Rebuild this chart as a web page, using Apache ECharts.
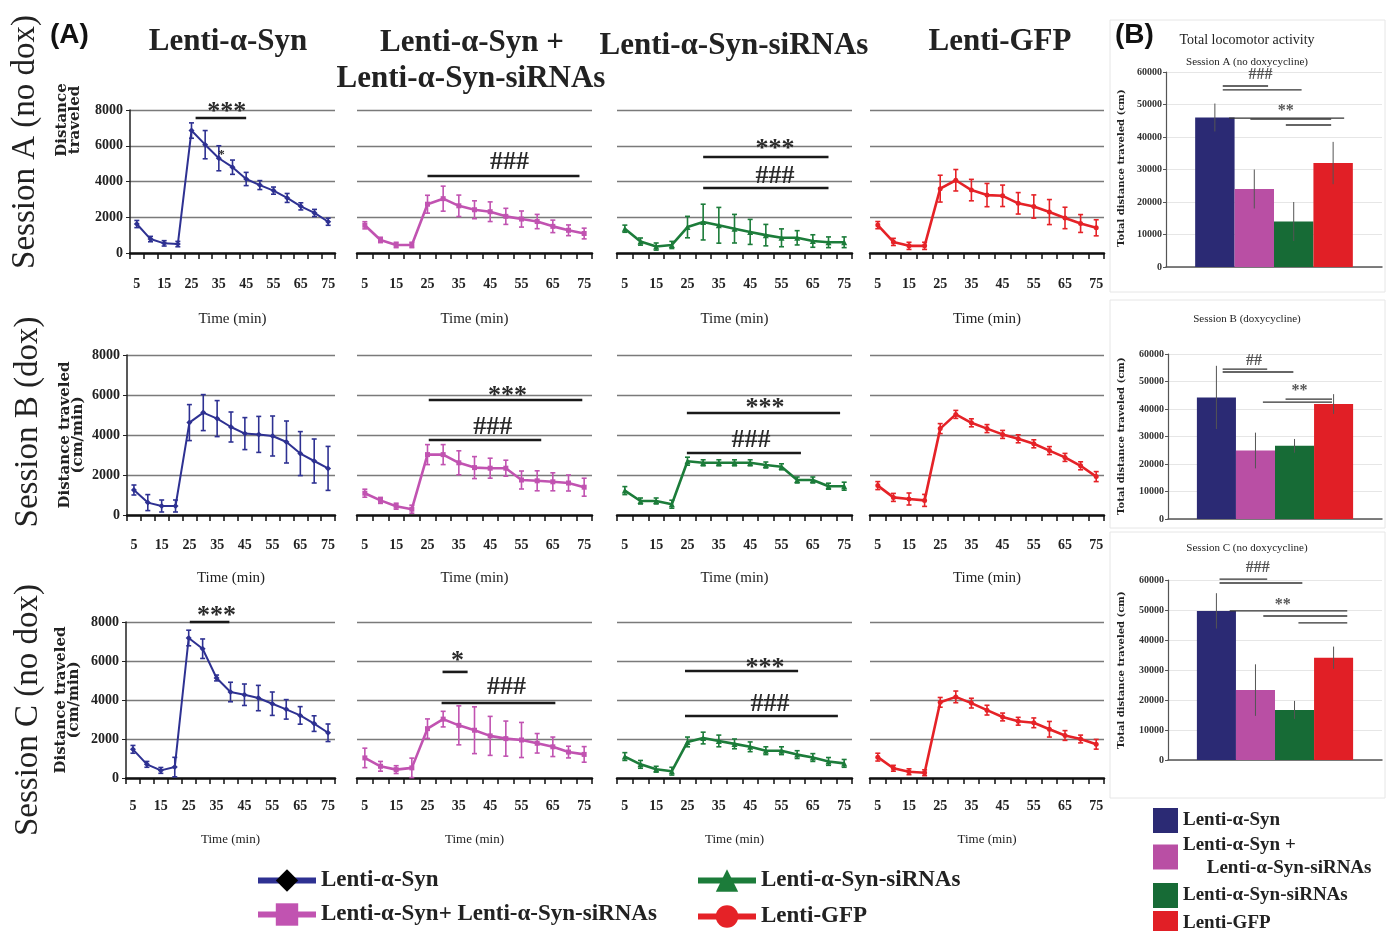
<!DOCTYPE html>
<html>
<head>
<meta charset="utf-8">
<title>Locomotor activity</title>
<script src="https://cdn.jsdelivr.net/npm/echarts@6/dist/echarts.min.js"></script>
<style>
  html, body { margin: 0; padding: 0; background: #fff; }
  #main { width: 1392px; height: 931px; }
</style>
</head>
<body>
<div id="main"></div>
<script>
// time bins (min)
var minutes = ['5', '10', '15', '20', '25', '30', '35', '40', '45', '50', '55', '60', '65', '70', '75'];
var groupNames = ['Lenti-α-Syn', 'Lenti-α-Syn + Lenti-α-Syn-siRNAs', 'Lenti-α-Syn-siRNAs', 'Lenti-GFP'];

// Session A (no dox), cm/min
var aSyn = [1620, 780, 540, 500, 6850, 6060, 5300, 4800, 4140, 3800, 3490, 3080, 2610, 2240, 1750];
var aSynSd = [200, 150, 150, 150, 430, 790, 700, 400, 370, 250, 200, 250, 200, 200, 200];
var aMix = [1550, 730, 450, 450, 2730, 3040, 2640, 2420, 2310, 2050, 1900, 1760, 1490, 1270, 1090];
var aMixSd = [200, 150, 150, 150, 500, 700, 600, 500, 550, 450, 450, 400, 350, 300, 300];
var aSi = [1360, 640, 360, 450, 1450, 1730, 1550, 1360, 1180, 1000, 850, 850, 670, 600, 600];
var aSiSd = [200, 200, 200, 200, 600, 1000, 1000, 800, 700, 600, 500, 400, 350, 300, 300];
var aGfp = [1560, 620, 400, 400, 3600, 4070, 3520, 3240, 3200, 2780, 2600, 2290, 1960, 1650, 1410];
var aGfpSd = [200, 200, 200, 200, 750, 600, 600, 650, 600, 600, 650, 700, 600, 500, 450];

// Session B (dox)
var bSyn = [1250, 620, 450, 450, 4620, 5120, 4820, 4400, 4070, 4030, 3950, 3650, 3070, 2700, 2330];
var bSynSd = [250, 400, 300, 300, 900, 900, 900, 750, 800, 900, 1000, 1050, 1100, 1100, 1100];
var bMix = [1090, 730, 440, 290, 3020, 3020, 2610, 2370, 2340, 2340, 1750, 1710, 1660, 1600, 1390];
var bMixSd = [200, 150, 150, 200, 500, 500, 600, 550, 500, 400, 450, 500, 450, 400, 450];
var bSi = [1220, 700, 700, 540, 2690, 2610, 2610, 2610, 2610, 2500, 2410, 1750, 1750, 1440, 1440];
var bSiSd = [200, 150, 150, 200, 200, 150, 150, 150, 150, 150, 150, 150, 150, 150, 200];
var bGfp = [1470, 880, 800, 730, 4320, 5030, 4610, 4320, 4030, 3810, 3560, 3220, 2880, 2460, 1920];
var bGfpSd = [200, 200, 300, 300, 250, 200, 200, 200, 200, 200, 200, 200, 200, 200, 250];

// Session C (no dox)
var cSyn = [1470, 700, 390, 560, 7180, 6630, 5130, 4410, 4270, 4100, 3810, 3520, 3210, 2790, 2320];
var cSynSd = [200, 150, 150, 500, 400, 500, 150, 500, 550, 650, 600, 500, 450, 400, 450];
var cMix = [1030, 600, 430, 520, 2530, 3020, 2700, 2450, 2160, 2020, 1950, 1780, 1600, 1330, 1210];
var cMixSd = [500, 250, 200, 500, 500, 400, 1000, 1200, 1000, 900, 900, 500, 500, 300, 400];
var cSi = [1100, 700, 450, 350, 1850, 2050, 1900, 1750, 1600, 1400, 1400, 1200, 1050, 850, 750];
var cSiSd = [200, 200, 150, 200, 250, 300, 300, 250, 250, 200, 200, 200, 200, 200, 200];
var cGfp = [1070, 500, 320, 270, 3880, 4160, 3840, 3480, 3130, 2910, 2830, 2500, 2180, 2000, 1730];
var cGfpSd = [200, 150, 150, 150, 250, 300, 250, 250, 200, 200, 250, 400, 250, 200, 250];

// total distance (cm), order = groupNames
var totalA = [46000, 24000, 14000, 32000];
var totalASd = [4300, 6000, 6000, 6500];
var totalB = [44200, 24900, 26600, 41800];
var totalBSd = [11500, 6500, 2500, 3600];
var totalC = [49700, 23300, 16700, 34100];
var totalCSd = [5900, 8600, 3000, 3700];

// significance bars: [from min, to min, value], labels: [min, value, text, size]
var sigLinesA = [[[26.5, 45, 7550]], [[25, 73.5, 4310]], [[30, 70, 5370], [30, 70, 3640]], []];
var sigTextA = [[[37.9, 8220, '***'], [36, 5650, '*', 13]], [[51.2, 5090, '###']], [[52.9, 6150, '***'], [52.9, 4310, '###']], []];
var sigLinesB = [[], [[25.4, 74.4, 5750], [25.4, 61.3, 3750]], [[24.8, 73.7, 5100], [24.8, 61.2, 3100]], []];
var sigTextB = [[], [[50.5, 6200, '***'], [45.8, 4400, '###']], [[49.7, 5600, '***'], [45.3, 3750, '###']], []];
var sigLinesC = [[[25.4, 39.6, 8000]], [[29.8, 37.8, 5440], [29.5, 65.8, 3850]], [[24.2, 60.3, 5490], [24.2, 73, 3180]], []];
var sigTextC = [[[35, 8570, '***']], [[34.6, 6260, '*'], [50.2, 4670, '###']], [[49.7, 5900, '***'], [51.3, 3800, '###']], []];

// bar panels: [from bar, to bar, value] with bar centres 0..3
var barSigLinesA = [[0.2, 1.35, 55700], [0.2, 2.2, 54500], [0.36, 3.28, 45800], [0.9, 2.95, 45500], [1.8, 2.95, 43700]];
var barSigTextA = [[1.16, 59000, '###'], [1.8, 49000, '**']];
var barSigLinesB = [[0.16, 1.3, 54500], [0.16, 1.97, 53450], [1.77, 2.96, 43600], [1.19, 2.96, 42500]];
var barSigTextB = [[0.96, 57450, '##'], [2.13, 48000, '**']];
var barSigLinesC = [[0.08, 1.3, 60300], [0.08, 2.2, 59000], [0.34, 3.35, 49700], [1.2, 3.35, 48000], [2.1, 3.35, 45700]];
var barSigTextC = [[1.06, 64000, '###'], [1.7, 53000, '**']];

var SERIF = '"Liberation Serif", "Times New Roman", serif';
var lineColors = ['#2e3192', '#c153b1', '#1c7c3a', '#e52227'];
var barColors = ['#2b2a74', '#b94fa4', '#176b36', '#e11f26'];
var symbols = ['diamond', 'rect', 'triangle', 'circle'];
var symbolSizes = [6, 5, 6, 5];

var means = [[aSyn, aMix, aSi, aGfp], [bSyn, bMix, bSi, bGfp], [cSyn, cMix, cSi, cGfp]];
var sds = [[aSynSd, aMixSd, aSiSd, aGfpSd], [bSynSd, bMixSd, bSiSd, bGfpSd], [cSynSd, cMixSd, cSiSd, cGfpSd]];
var sigLines = [sigLinesA, sigLinesB, sigLinesC];
var sigTexts = [sigTextA, sigTextB, sigTextC];

// layout
var rowTop = [110, 355, 622];
var rowHeight = [143, 160, 156];
var col1Left = [130, 127, 126];
var colLeft = [0, 357, 617, 870];
var colWidth = [0, 235, 235, 234];
var labelMargin = [24, 23, 21];
var nameGap = [59, 56, 55];
var nameSize = [15, 15, 13];

function plain(v) { return String(v); }

function errorBar(params, api) {
  var i = api.value(0), m = api.value(1), s = api.value(2);
  var hi = api.coord([i, m + s]);
  var lo = api.coord([i, Math.max(0, m - s)]);
  var col = api.visual('color');
  var st = { stroke: col, lineWidth: 1.6 };
  return {
    type: 'group',
    children: [
      { type: 'line', shape: { x1: hi[0], y1: hi[1], x2: lo[0], y2: lo[1] }, style: st },
      { type: 'line', shape: { x1: hi[0] - 2.5, y1: hi[1], x2: hi[0] + 2.5, y2: hi[1] }, style: st },
      { type: 'line', shape: { x1: lo[0] - 2.5, y1: lo[1], x2: lo[0] + 2.5, y2: lo[1] }, style: st }
    ]
  };
}

function minuteX(api, m) {
  var p0 = api.coord([0, 0]), p1 = api.coord([1, 0]);
  return p0[0] + (m - 5) / 5 * (p1[0] - p0[0]);
}

function barX(api, b) {
  var c = api.coord([0, 0])[0];
  var bw = api.size([1, 0])[0] * 0.73 / 4;
  return c + (b - 1.5) * bw;
}

function sigSeries(k, lines, labels, toX, opt) {
  return {
    type: 'custom', xAxisIndex: k, yAxisIndex: k, silent: true, clip: false, z: 6,
    data: [[0, 0]],
    renderItem: function (params, api) {
      var kids = [];
      lines.forEach(function (l) {
        var y = api.coord([0, l[2]])[1];
        kids.push({ type: 'line', shape: { x1: toX(api, l[0]), y1: y, x2: toX(api, l[1]), y2: y },
          style: { stroke: opt.lineColor, lineWidth: opt.lineWidth } });
      });
      labels.forEach(function (t) {
        var size = t[3] || opt.fontSize;
        var y = api.coord([0, t[1]])[1];
        if (t[2].indexOf('*') >= 0) y += size * 0.22;
        kids.push({ type: 'text', x: toX(api, t[0]), y: y,
          style: { text: t[2], fill: opt.textColor, font: 'bold ' + size + 'px ' + SERIF,
            align: 'center', verticalAlign: 'middle', textAlign: 'center', textVerticalAlign: 'middle' } });
      });
      return { type: 'group', children: kids };
    }
  };
}

var grids = [], xAxes = [], yAxes = [];
var lineSeries = [], otherSeries = [];

for (var r = 0; r < 3; r++) {
  for (var c = 0; c < 4; c++) {
    var k = r * 4 + c;
    var left = c === 0 ? col1Left[r] : colLeft[c];
    var width = c === 0 ? 335 - col1Left[r] : colWidth[c];
    grids.push({ left: left, top: rowTop[r], width: width, height: rowHeight[r], containLabel: false, outerBoundsMode: 'none' });
    xAxes.push({
      type: 'category', gridIndex: k, data: minutes, boundaryGap: true,
      axisLine: { lineStyle: { color: '#111', width: 2.5 } },
      axisTick: { show: true, interval: 0, length: 6, lineStyle: { color: '#111', width: 1.5 } },
      axisLabel: { interval: 1, fontFamily: SERIF, fontWeight: 'bold', fontSize: 14, color: '#222', margin: labelMargin[r] },
      name: 'Time (min)', nameLocation: 'middle', nameGap: nameGap[r],
      nameTextStyle: { fontFamily: SERIF, fontSize: nameSize[r], color: '#222' }
    });
    yAxes.push({
      type: 'value', gridIndex: k, min: 0, max: 8000, interval: 2000,
      axisLine: { show: c === 0, lineStyle: { color: '#222', width: 1.5 } },
      axisTick: { show: c === 0, length: 4, lineStyle: { color: '#222' } },
      axisLabel: { show: c === 0, formatter: plain, fontFamily: SERIF, fontWeight: 'bold', fontSize: 14, color: '#222', margin: 7 },
      splitLine: { show: true, lineStyle: { color: '#7a7a7a', width: 1.4 } }
    });
    lineSeries.push({
      type: 'line', name: groupNames[c], xAxisIndex: k, yAxisIndex: k, data: means[r][c],
      symbol: symbols[c], symbolSize: symbolSizes[c], z: 4,
      lineStyle: { color: lineColors[c], width: c === 0 ? 2 : 2.6 },
      itemStyle: { color: lineColors[c] }
    });
    otherSeries.push({
      type: 'custom', name: groupNames[c], xAxisIndex: k, yAxisIndex: k, z: 5,
      itemStyle: { color: lineColors[c] },
      encode: { x: 0, y: 1 },
      data: means[r][c].map(function (v, i) { return [i, v, sds[r][c][i]]; }),
      renderItem: errorBar
    });
    if (sigLines[r][c].length || sigTexts[r][c].length) {
      otherSeries.push(sigSeries(k, sigLines[r][c], sigTexts[r][c], minuteX,
        { lineColor: '#1a1a1a', lineWidth: 2.6, fontSize: 26, textColor: '#2a2a2a' }));
    }
  }
}

// bar panels (B)
var barGeo = [
  { left: 1166, top: 72, width: 216, height: 195 },
  { left: 1168, top: 354, width: 214, height: 165 },
  { left: 1168, top: 580, width: 214, height: 180 }
];
var totals = [totalA, totalB, totalC];
var totalSds = [totalASd, totalBSd, totalCSd];
var barSigLines = [barSigLinesA, barSigLinesB, barSigLinesC];
var barSigTexts = [barSigTextA, barSigTextB, barSigTextC];

barGeo.forEach(function (g, p) {
  var k = 12 + p;
  grids.push({ left: g.left, top: g.top, width: g.width, height: g.height, containLabel: false, outerBoundsMode: 'none' });
  xAxes.push({
    type: 'category', gridIndex: k, data: [''],
    axisLine: { lineStyle: { color: '#555', width: 1.5 } },
    axisTick: { show: false }, axisLabel: { show: false }
  });
  yAxes.push({
    type: 'value', gridIndex: k, min: 0, max: 60000, interval: 10000,
    axisLine: { show: true, lineStyle: { color: '#555', width: 1.2 } },
    axisTick: { show: true, length: 3, lineStyle: { color: '#555' } },
    axisLabel: { formatter: plain, fontFamily: SERIF, fontWeight: 'bold', fontSize: 10, color: '#333', margin: 4 },
    splitLine: { lineStyle: { color: '#e6e6e6' } }
  });
  for (var i = 0; i < 4; i++) {
    otherSeries.push({
      type: 'bar', name: groupNames[i], xAxisIndex: k, yAxisIndex: k, data: [totals[p][i]],
      barGap: '0%', barCategoryGap: '27%', z: 2,
      itemStyle: { color: barColors[i] }
    });
  }
  otherSeries.push({
    type: 'custom', xAxisIndex: k, yAxisIndex: k, z: 5, silent: true,
    encode: { x: 0, y: 1 },
    data: totals[p].map(function (v, i) { return [0, v, totalSds[p][i], i]; }),
    renderItem: function (params, api) {
      var m = api.value(1), s = api.value(2), i = api.value(3);
      var x = barX(api, i);
      var hi = api.coord([0, m + s])[1], lo = api.coord([0, m - s])[1];
      return { type: 'line', shape: { x1: x, y1: hi, x2: x, y2: lo }, style: { stroke: '#555', lineWidth: 1 } };
    }
  });
  otherSeries.push(sigSeries(k, barSigLines[p], barSigTexts[p], barX,
    { lineColor: '#333', lineWidth: 1.3, fontSize: 16, textColor: '#555' }));
});

function txt(x, y, text, font, opt) {
  opt = opt || {};
  return {
    type: 'text', x: x, y: y, rotation: opt.rotate ? Math.PI / 2 : 0, z: 10,
    style: {
      text: text, font: font, fill: opt.color || '#222', lineHeight: opt.lineHeight,
      align: opt.align || 'center', verticalAlign: 'middle',
      textAlign: opt.align || 'center', textVerticalAlign: 'middle'
    }
  };
}

var titleFont = 'bold 31px ' + SERIF;
var graphics = [
  { type: 'rect', shape: { x: 1110, y: 20, width: 275, height: 272 }, style: { fill: 'none', stroke: '#e6e6e6' }, z: -1 },
  { type: 'rect', shape: { x: 1110, y: 300, width: 275, height: 228 }, style: { fill: 'none', stroke: '#e6e6e6' }, z: -1 },
  { type: 'rect', shape: { x: 1110, y: 532, width: 275, height: 266 }, style: { fill: 'none', stroke: '#e6e6e6' }, z: -1 },
  txt(50, 35, '(A)', 'bold 28px "Liberation Sans", Arial, sans-serif', { align: 'left', color: '#111' }),
  txt(1115, 35, '(B)', 'bold 28px "Liberation Sans", Arial, sans-serif', { align: 'left', color: '#111' }),
  txt(228, 42, 'Lenti-α-Syn', titleFont),
  txt(472, 43, 'Lenti-α-Syn +', titleFont),
  txt(471, 79, 'Lenti-α-Syn-siRNAs', titleFont),
  txt(734, 46, 'Lenti-α-Syn-siRNAs', titleFont),
  txt(1000, 42, 'Lenti-GFP', titleFont),
  txt(25, 142, 'Session A (no dox)', '33px ' + SERIF, { rotate: true }),
  txt(28, 422, 'Session B (dox)', '33px ' + SERIF, { rotate: true }),
  txt(28, 710, 'Session C (no dox)', '33px ' + SERIF, { rotate: true }),
  txt(69, 120, 'Distance\ntraveled', 'bold 15px "DejaVu Serif", serif', { rotate: true, lineHeight: 13 }),
  txt(72, 435, 'Distance traveled\n(cm/min)', 'bold 15px "DejaVu Serif", serif', { rotate: true, lineHeight: 13 }),
  txt(68, 700, 'Distance traveled\n(cm/min)', 'bold 15px "DejaVu Serif", serif', { rotate: true, lineHeight: 13 }),
  txt(1247, 40, 'Total locomotor activity', '14px ' + SERIF),
  txt(1247, 62, 'Session A (no doxycycline)', '11px ' + SERIF),
  txt(1247, 319, 'Session B (doxycycline)', '11px ' + SERIF),
  txt(1247, 548, 'Session C (no doxycycline)', '11px ' + SERIF),
  txt(1121, 168, 'Total distance traveled (cm)', 'bold 10px "DejaVu Serif", serif', { rotate: true }),
  txt(1121, 436, 'Total distance traveled (cm)', 'bold 10px "DejaVu Serif", serif', { rotate: true }),
  txt(1121, 670, 'Total distance traveled (cm)', 'bold 10px "DejaVu Serif", serif', { rotate: true })
];

// legends
var bottomText = { fontFamily: SERIF, fontSize: 23, fontWeight: 'bold', color: '#222' };
var rightText = { fontFamily: SERIF, fontSize: 19, fontWeight: 'bold', color: '#222', lineHeight: 23 };
function lineLegend(i, left, top, iconColor, label) {
  return {
    left: left, top: top, itemWidth: 58, itemHeight: 28, selectedMode: false,
    data: [{ name: groupNames[i], itemStyle: { color: iconColor }, lineStyle: { width: 6, color: lineColors[i] } }],
    formatter: function () { return label; },
    textStyle: bottomText
  };
}
function barLegend(i, top, label) {
  return {
    left: 1148, top: top, itemWidth: 25, itemHeight: 25, icon: 'rect', selectedMode: false,
    data: [{ name: groupNames[i], itemStyle: { color: barColors[i] } }],
    formatter: function () { return label; },
    textStyle: rightText
  };
}
var legends = [
  lineLegend(0, 250, 864, '#000', 'Lenti-α-Syn'),
  lineLegend(1, 250, 898, lineColors[1], 'Lenti-α-Syn+ Lenti-α-Syn-siRNAs'),
  lineLegend(2, 690, 864, lineColors[2], 'Lenti-α-Syn-siRNAs'),
  lineLegend(3, 690, 900, lineColors[3], 'Lenti-GFP'),
  barLegend(0, 803, 'Lenti-α-Syn'),
  barLegend(1, 829, 'Lenti-α-Syn +\n     Lenti-α-Syn-siRNAs'),
  barLegend(2, 878, 'Lenti-α-Syn-siRNAs'),
  barLegend(3, 906, 'Lenti-GFP')
];

var chart = echarts.init(document.getElementById('main'));
chart.setOption({
  backgroundColor: '#fff',
  animation: false,
  grid: grids,
  xAxis: xAxes,
  yAxis: yAxes,
  legend: legends,
  graphic: graphics,
  series: lineSeries.concat(otherSeries)
});
</script>
</body>
</html>
